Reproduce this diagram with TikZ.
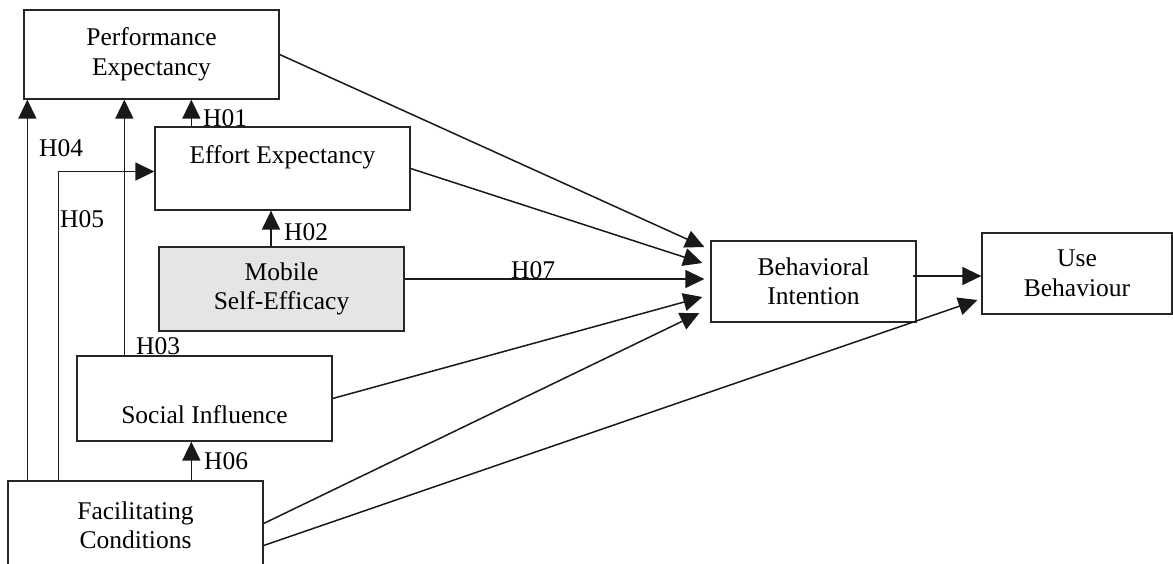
\documentclass[tikz,border=0pt]{standalone}
\usepackage{fontspec}
\setmainfont{Liberation Serif}
\usetikzlibrary{arrows.meta,calc}
\begin{document}
\begin{tikzpicture}[x=1pt,y=-1pt,
  box/.style={draw=black!85, line width=1.3pt, rectangle, align=center, inner sep=0pt, font=\fontsize{25.5}{29.5}\selectfont},
  arr/.style={line width=1.5pt, draw=black!90, -{Triangle[length=19pt,width=18pt]}},
  lbl/.style={anchor=base west, inner sep=0pt, font=\fontsize{25.5}{29.5}\selectfont}]
\useasboundingbox (0,0) rectangle (1173,563);
% boxes
\node[box, minimum width=255pt, minimum height=89pt] (pe) at (151.5,54.5) {Performance\\Expectancy};
\node[box, minimum width=255pt, minimum height=83pt] (ee) at (282.5,168.5) {Effort Expectancy\\[-10pt]\strut};
\node[box, fill=black!10, minimum width=245pt, minimum height=84pt] (mse) at (281.5,289) {Mobile\\Self-Efficacy};
\node[box, minimum width=255pt, minimum height=85pt] (si) at (204.5,398.5) {\strut\\Social Influence};
\node[box, minimum width=255pt, minimum height=89pt] (fc) at (135.5,525.5) {Facilitating\\Conditions};
\node[box, minimum width=205pt, minimum height=81pt] (bi) at (813.5,281.5) {Behavioral\\Intention};
\node[box, minimum width=190pt, minimum height=81pt] (ub) at (1077,273.5) {Use\\Behaviour};
% arrows into BI
\draw[arr] (pe.east) -- ($(bi.west)+(-6,-34.5)$);
\draw[arr] (ee.east) -- ($(bi.west)+(-8,-18.5)$);
\draw[arr] ($(mse.east)+(0,-10)$) coordinate (m7) -- ($(bi.west)+(-6,-2.5)$);
\draw[arr] (si.east) -- ($(bi.west)+(-8,15.5)$);
\draw[arr] ($(fc.east)+(0,-2)$) -- ($(bi.west)+(-11,31.5)$);
\draw[arr] ($(fc.east)+(0,20)$) -- ($(ub.west)+(-4,26.5)$);
\draw[arr] ($(bi.east)+(-4,-5.5)$) -- ($(ub.west)+(0,2.5)$);
% vertical arrows
\draw[arr] ($(ee.north west)+(37,0)$) coordinate (h1) -- (h1 |- pe.south);
\draw[arr] ($(mse.north)+(-10.5,0)$) coordinate (h2) -- (h2 |- ee.south);
\draw[arr] ($(si.north west)+(48,0)$) coordinate (h3) -- (h3 |- pe.south);
\draw[arr] ($(fc.north west)+(20,0)$) coordinate (h4) -- (h4 |- pe.south);
\coordinate (e5) at ($(ee.west)+(0,3)$);
\draw[arr] ($(fc.north west)+(51,0)$) coordinate (h5) |- (e5);
\draw[arr] ($(fc.north west)+(184,0)$) coordinate (h6) -- (h6 |- si.south);
% labels
\node[lbl] (l1) at (203,126.5) {H01};
\node[lbl] (l2) at (284,240) {H02};
\node[lbl] (l3) at (136,354) {H03};
\node[lbl] (l4) at (39,156) {H04};
\node[lbl] (l5) at (60,227) {H05};
\node[lbl] (l6) at (204,469) {H06};
\node[lbl] (l7) at (511,278) {H07};
\end{tikzpicture}
\end{document}
